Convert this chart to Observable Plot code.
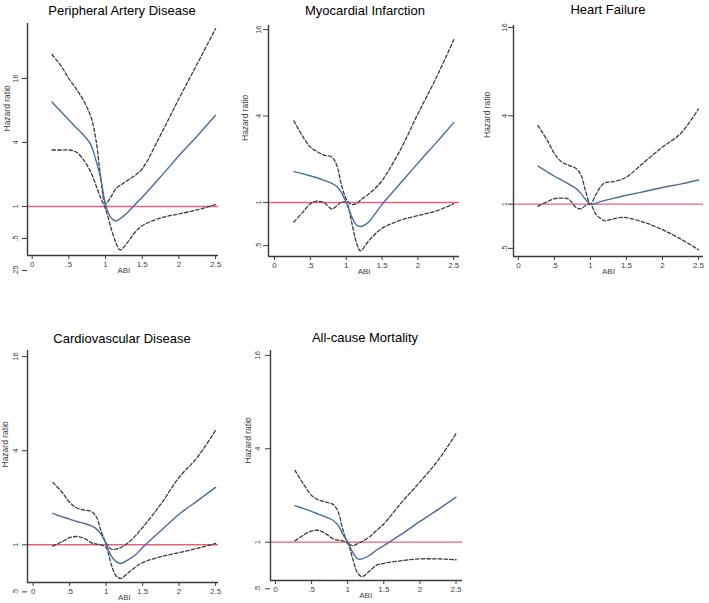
<!DOCTYPE html>
<html><head><meta charset="utf-8">
<script src="https://cdn.jsdelivr.net/npm/d3@7"></script>
<script src="https://cdn.jsdelivr.net/npm/@observablehq/plot@0.6"></script>
<style>
body{margin:0;background:#fff;font-family:"Liberation Sans",Arial,sans-serif;}
#chart{position:relative;width:709px;height:603px;overflow:hidden;background:#fff;}
.title{position:absolute;transform:translate(-50%,-50%);color:#000;white-space:nowrap;font-family:"Liberation Sans",Arial,sans-serif;font-size:13px;line-height:15px;}
.panel{position:absolute;}
</style></head><body><div id="chart"></div>
<script>
// ABI grid (x values shared by all curves)
const abi = [0.27, 0.4, 0.5, 0.6, 0.7, 0.8, 0.87, 0.93, 1.0, 1.07, 1.14, 1.2, 1.3, 1.4, 1.5, 1.75, 2.0, 2.25, 2.5];

// Peripheral Artery Disease
const padEst  = [9.6, 7.7, 6.5, 5.5, 4.7, 3.8, 2.7, 1.9, 1.05, 0.79, 0.73, 0.77, 0.88, 1.04, 1.22, 1.9, 3.0, 4.6, 7.2];
const padLow  = [3.4, 3.4, 3.4, 3.25, 2.75, 2.1, 1.58, 1.22, 0.95, 0.64, 0.46, 0.39, 0.46, 0.57, 0.66, 0.78, 0.85, 0.93, 1.04];
const padHigh = [26.9, 20.7, 15.9, 12.8, 9.9, 7.0, 4.2, 2.0, 1.06, 1.22, 1.47, 1.58, 1.76, 1.96, 2.26, 4.7, 10.3, 22, 47];

// Myocardial Infarction
const miEst  = [1.64, 1.58, 1.53, 1.48, 1.42, 1.36, 1.29, 1.18, 1.0, 0.81, 0.70, 0.68, 0.72, 0.83, 0.97, 1.35, 1.88, 2.59, 3.6];
const miLow  = [0.73, 0.86, 0.98, 1.02, 0.99, 0.90, 0.95, 1.0, 1.0, 0.75, 0.53, 0.46, 0.53, 0.60, 0.66, 0.75, 0.81, 0.87, 0.98];
const miHigh = [3.7, 2.85, 2.43, 2.25, 2.13, 2.07, 1.81, 1.35, 1.06, 0.97, 0.98, 1.04, 1.13, 1.25, 1.42, 2.3, 4.15, 7.3, 13.6];

// Heart Failure
const hfEst  = [1.82, 1.66, 1.55, 1.46, 1.37, 1.28, 1.18, 1.08, 1.0, 1.01, 1.04, 1.06, 1.09, 1.12, 1.15, 1.22, 1.30, 1.37, 1.46];
const hfLow  = [0.97, 1.04, 1.09, 1.10, 1.08, 0.95, 0.93, 0.98, 1.0, 0.86, 0.80, 0.77, 0.79, 0.81, 0.81, 0.75, 0.67, 0.58, 0.49];
const hfHigh = [3.44, 2.72, 2.21, 1.94, 1.84, 1.75, 1.57, 1.24, 1.0, 1.15, 1.31, 1.40, 1.42, 1.46, 1.53, 1.94, 2.45, 3.02, 4.46];

// Cardiovascular Disease
const cvdEst  = [1.59, 1.51, 1.46, 1.41, 1.37, 1.32, 1.26, 1.17, 1.01, 0.85, 0.78, 0.76, 0.80, 0.86, 0.96, 1.23, 1.57, 1.91, 2.33];
const cvdLow  = [0.98, 1.05, 1.11, 1.13, 1.10, 1.03, 1.01, 1.0, 0.96, 0.75, 0.63, 0.61, 0.66, 0.72, 0.77, 0.84, 0.89, 0.95, 1.02];
const cvdHigh = [2.51, 2.16, 1.87, 1.72, 1.67, 1.63, 1.50, 1.23, 1.03, 0.94, 0.94, 0.96, 1.03, 1.14, 1.29, 1.82, 2.70, 3.63, 5.4];

// All-cause Mortality
const acmEst  = [1.72, 1.64, 1.58, 1.51, 1.45, 1.38, 1.28, 1.13, 1.0, 0.86, 0.78, 0.78, 0.82, 0.89, 0.95, 1.13, 1.36, 1.62, 1.95];
const acmLow  = [1.02, 1.12, 1.18, 1.19, 1.13, 1.05, 1.03, 1.02, 0.98, 0.78, 0.63, 0.60, 0.65, 0.71, 0.73, 0.76, 0.78, 0.78, 0.77];
const acmHigh = [2.9, 2.32, 2.0, 1.87, 1.81, 1.75, 1.56, 1.22, 1.0, 0.95, 0.98, 1.01, 1.08, 1.19, 1.31, 1.81, 2.44, 3.36, 5.0];

const titles = ["Peripheral Artery Disease", "Myocardial Infarction", "Heart Failure", "Cardiovascular Disease", "All-cause Mortality"];
const yTicksAll = [0.25, 0.5, 1, 4, 16];
const yTickLabels = [".25", ".5", "1", "4", "16"];
const xTicks = [0, 0.5, 1, 1.5, 2, 2.5];
const xTickLabels = ["0", ".5", "1", "1.5", "2", "2.5"];
const yLabel = "Hazard ratio";
const xLabel = "ABI";

const series = [
  [padEst, padLow, padHigh],
  [miEst, miLow, miHigh],
  [hfEst, hfLow, hfHigh],
  [cvdEst, cvdLow, cvdHigh],
  [acmEst, acmLow, acmHigh]
];

// layout (page pixel frames, scale domains, label offsets, title placement)
const layout = [
  {frame:{l:27, r:218, t:23, b:255}, x:[-0.064, 2.54], y:[0.346, 52.6], yt:[0.25,0.5,1,4,16], tdx:-10, ldx:-20, ldy:-8, tx:122, ty:10},
  {frame:{l:268, r:459, t:25, b:256}, x:[-0.084, 2.58], y:[0.42, 17.1], yt:[0.5,1,4,16], tdx:-8, ldx:-23, ldy:0, tx:365, ty:10},
  {frame:{l:513, r:703, t:25, b:256}, x:[-0.069, 2.57], y:[0.44, 16.5], yt:[0.5,1,4,16], tdx:-7, ldx:-26, ldy:-3, tx:608, ty:9},
  {frame:{l:27, r:218, t:350, b:582}, x:[-0.077, 2.54], y:[0.574, 17.5], yt:[0.5,1,4,16], tdx:-10, ldx:-22, ldy:1, tx:122, ty:338},
  {frame:{l:270, r:462, t:350, b:580}, x:[-0.069, 2.59], y:[0.566, 17.2], yt:[0.5,1,4,16], tdx:-11, ldx:-22, ldy:-2, tx:365, ty:337}
];

const RED = "#e8607f", BLUE = "#4d6c9c", DASH = "#3c3c3c", AX = "#3a3a3a";
const mL = 32, mR = 6, mT = 4, mB = 26;
const chart = document.getElementById("chart");

layout.forEach((L, k) => {
  const [est, lo, hi] = series[k];
  const rows = abi.map((a, i) => ({abi: a, est: est[i], lo: lo[i], hi: hi[i]}));
  const fw = L.frame.r - L.frame.l, fh = L.frame.b - L.frame.t;
  const ux = (L.x[1] - L.x[0]) / fw; // data units per pixel (x)
  const svg = Plot.plot({
    width: fw + mL + mR,
    height: fh + mT + mB,
    marginLeft: mL, marginRight: mR, marginTop: mT, marginBottom: mB,
    style: {background: "transparent", overflow: "visible", maxWidth: "none", fontFamily: "Liberation Sans, Arial, sans-serif"},
    x: {domain: L.x, axis: null},
    y: {type: "log", domain: L.y, axis: null},
    marks: [
      Plot.ruleY([1], {stroke: RED, strokeWidth: 1.4}),
      Plot.line(rows, {x: "abi", y: "hi", stroke: DASH, strokeWidth: 1.3, strokeDasharray: "3.5,2.2", curve: "catmull-rom"}),
      Plot.line(rows, {x: "abi", y: "lo", stroke: DASH, strokeWidth: 1.3, strokeDasharray: "3.5,2.2", curve: "catmull-rom"}),
      Plot.line(rows, {x: "abi", y: "est", stroke: BLUE, strokeWidth: 1.4, curve: "catmull-rom"}),
      Plot.ruleX([L.x[0]], {stroke: AX, strokeWidth: 1.4}),
      Plot.ruleY([L.y[0]], {stroke: AX, strokeWidth: 1.4}),
      // y ticks and rotated tick labels
      Plot.ruleY(L.yt, {x1: L.x[0] - 5 * ux, x2: L.x[0], stroke: AX, strokeWidth: 1}),
      Plot.text(L.yt, {y: d => d, frameAnchor: "left", dx: L.tdx, rotate: -90, textAnchor: "middle", lineAnchor: "bottom",
        text: d => yTickLabels[yTicksAll.indexOf(d)], fontSize: 7.5, fill: "#444"}),
      Plot.axisX(xTicks, {tickFormat: d => xTickLabels[xTicks.indexOf(d)], tickSize: 4, tickPadding: 2, fontSize: 8, stroke: AX, fill: "#444", label: null}),
      Plot.text([1.25], {x: d => d, frameAnchor: "bottom", dy: 17, text: () => xLabel, fontSize: 8, fill: "#444"}),
      Plot.text([yLabel], {frameAnchor: "left", dx: L.ldx, dy: L.ldy, rotate: -90, fontSize: 8.5, fill: "#444"})
    ]
  });
  const div = document.createElement("div");
  div.className = "panel";
  div.style.left = (L.frame.l - mL) + "px";
  div.style.top = (L.frame.t - mT) + "px";
  div.appendChild(svg);
  chart.appendChild(div);
  const t = document.createElement("div");
  t.className = "title";
  t.style.left = L.tx + "px";
  t.style.top = L.ty + "px";
  t.textContent = titles[k];
  chart.appendChild(t);
});
</script>
</body></html>
